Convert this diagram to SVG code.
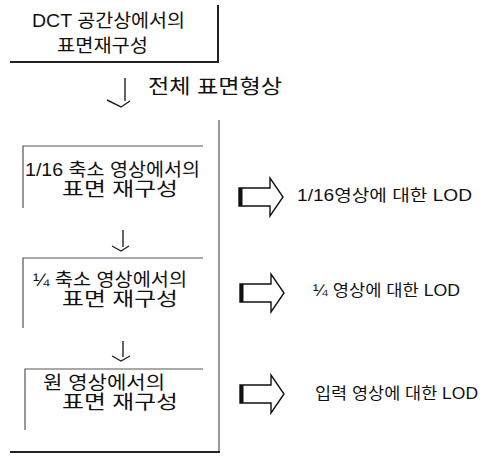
<svg xmlns="http://www.w3.org/2000/svg" width="492" height="460" viewBox="0 0 492 460">
<style>
.t{font-family:"Liberation Sans","Noto Sans CJK KR",sans-serif;font-size:18px;fill:#111}
.t2{font-family:"Liberation Sans","Noto Sans CJK KR",sans-serif;font-size:19px;fill:#111}
.s{font-family:"Liberation Sans","Noto Sans CJK KR",sans-serif;font-size:16px;fill:#111}
.frame{stroke:#222;stroke-width:2;fill:none}
.box{stroke:#555;stroke-width:1.2;fill:none}
.conn{stroke:#222;stroke-width:1.4;fill:none}
.blk{fill:#fff;stroke:#111;stroke-width:1.4;stroke-linejoin:miter}
</style>
<defs>
<g id="blockArrow">
<path class="blk" d="M0,-9 H31 V-19 L44,0 L31,19 V9 H0 Z"/>
<rect x="0" y="-9" width="3.5" height="18" fill="#111"/>
</g>
</defs>
<rect width="492" height="460" fill="#fff"/>

<g id="frame">
<line class="frame" x1="218" y1="5" x2="218" y2="62"/>
<line class="frame" x1="10" y1="62" x2="219" y2="62"/>
<line class="box" x1="219" y1="120" x2="219" y2="452"/>
<line class="frame" x1="10" y1="452" x2="220" y2="452"/>
</g>

<g id="node-dct">
<text class="t" x="32" y="27" textLength="153" lengthAdjust="spacingAndGlyphs">DCT 공간상에서의</text>
<text class="t" x="57" y="52" textLength="91" lengthAdjust="spacingAndGlyphs">표면재구성</text>
</g>

<g id="node-116">
<polyline class="box" points="23,208 23,146 203,146"/>
<text class="t" x="25" y="176" textLength="175" lengthAdjust="spacingAndGlyphs">1/16 축소 영상에서의</text>
<text class="t2" x="62" y="196" textLength="116" lengthAdjust="spacingAndGlyphs">표면 재구성</text>
</g>

<g id="node-14">
<polyline class="box" points="23,328 23,258 203,258"/>
<text class="t" x="33" y="286" textLength="154" lengthAdjust="spacingAndGlyphs">¼ 축소 영상에서의</text>
<text class="t2" x="62" y="306" textLength="116" lengthAdjust="spacingAndGlyphs">표면 재구성</text>
</g>

<g id="node-orig">
<polyline class="box" points="25,430 25,369 203,369"/>
<text class="t" x="43" y="389" textLength="122" lengthAdjust="spacingAndGlyphs">원 영상에서의</text>
<text class="t2" x="62" y="409" textLength="116" lengthAdjust="spacingAndGlyphs">표면 재구성</text>
</g>

<g id="connectors">
<line class="conn" x1="125" y1="78" x2="125" y2="101"/>
<path class="conn" d="M107,100 L121,107 L130,101"/>
<text class="t" x="148" y="94" style="font-size:20px" textLength="134" lengthAdjust="spacingAndGlyphs">전체 표면형상</text>
<line class="conn" x1="123" y1="230" x2="123" y2="247"/>
<path class="conn" d="M112,246 L121,251 L129,246"/>
<line class="conn" x1="123" y1="341" x2="123" y2="357"/>
<path class="conn" d="M112,356 L121,361 L130,356"/>
<use href="#blockArrow" transform="translate(239,197)"/>
<use href="#blockArrow" transform="translate(240,293)"/>
<use href="#blockArrow" transform="translate(240,394)"/>
</g>

<g id="label-116">
<text class="s" x="297" y="201" textLength="175" lengthAdjust="spacingAndGlyphs">1/16영상에 대한 LOD</text>
</g>
<g id="label-14">
<text class="s" x="313" y="296" textLength="147" lengthAdjust="spacingAndGlyphs">¼ 영상에 대한 LOD</text>
</g>
<g id="label-orig">
<text class="s" x="315" y="399" textLength="163" lengthAdjust="spacingAndGlyphs">입력 영상에 대한 LOD</text>
</g>
</svg>
